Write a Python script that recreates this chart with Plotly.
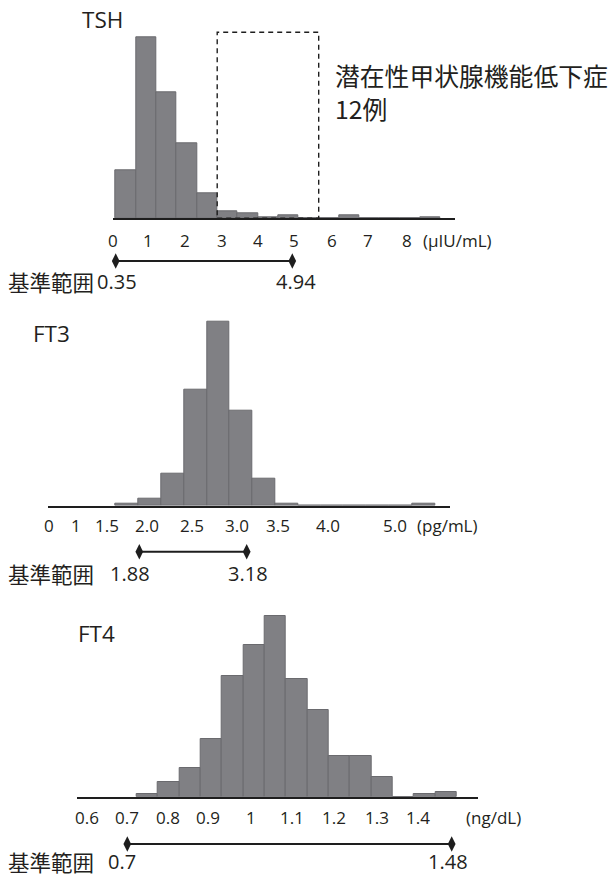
import plotly.graph_objects as go

W, H = 611, 877

# ------------------------------------------------------------------ data
tsh_counts = [36, 137, 95, 57, 19, 5, 4, 1, 2, 0, 0, 2, 0, 0, 0, 1]
tsh_tick_labels = ["0", "1", "2", "3", "4", "5", "6", "7", "8"]
tsh_unit = "(µIU/mL)"
tsh_ref = [0.35, 4.94]
tsh_ref_labels = ["0.35", "4.94"]
tsh_box_bins = [5, 9]          # bins inside the dashed box
tsh_box_text = ["潜在性甲状腺機能低下症", "12例"]

ft3_counts = [1, 4, 19, 68, 108, 56, 16, 1, 0, 0, 0, 0, 0, 1]
ft3_tick_labels = ["0", "1", "1.5", "2.0", "2.5", "3.0", "3.5", "4.0", "5.0"]
ft3_unit = "(pg/mL)"
ft3_ref = [1.88, 3.18]
ft3_ref_labels = ["1.88", "3.18"]

ft4_counts = [1, 6, 12, 24, 50, 63, 75, 49, 36, 17, 17, 8, 0, 1, 2]
ft4_tick_labels = ["0.6", "0.7", "0.8", "0.9", "1", "1.1", "1.2", "1.3", "1.4"]
ft4_unit = "(ng/dL)"
ft4_ref = [0.7, 1.48]
ft4_ref_labels = ["0.7", "1.48"]

ref_title = "基準範囲"
titles = ["TSH", "FT3", "FT4"]

# ------------------------------------------------------------------ layout (pixels)
panels = [
    dict(title=titles[0], title_xy=(102.5, 19), counts=tsh_counts,
         line=(113.3, 455), x0=115.7, bw=20.3, base=218.3, top=37.3,
         ticks_px=[112.7, 148, 185, 221.7, 258.3, 294, 331.7, 368.3, 406.7],
         tick_labels=tsh_tick_labels, tick_y=240, unit=tsh_unit, unit_x=457,
         ref=tsh_ref, ref_px=(115.7, 292.3), ref_y=261,
         ref_labels=tsh_ref_labels, ref_label_px=(117, 296), ref_text_y=281.7,
         ref_title_x=6),
    dict(title=titles[1], title_xy=(51.7, 333), counts=ft3_counts,
         line=(48.3, 450), x0=115.7, bw=22.8, base=505.7, top=321.7,
         ticks_px=[49, 76, 106.7, 146.7, 191.7, 236.7, 278.3, 328.3, 395],
         tick_labels=ft3_tick_labels, tick_y=525, unit=ft3_unit, unit_x=447,
         ref=ft3_ref, ref_px=(139.3, 246.7), ref_y=551.7,
         ref_labels=ft3_ref_labels, ref_label_px=(130, 248), ref_text_y=573,
         ref_title_x=6),
    dict(title=titles[2], title_xy=(96.7, 633), counts=ft4_counts,
         line=(76.7, 478.3), x0=136.7, bw=21.33, base=796.7, top=616,
         ticks_px=[86.7, 126.7, 168.3, 208.3, 250.7, 292.3, 334.3, 376.7, 418.3],
         tick_labels=ft4_tick_labels, tick_y=817, unit=ft4_unit, unit_x=493,
         ref=ft4_ref, ref_px=(127.3, 451.7), ref_y=844,
         ref_labels=ft4_ref_labels, ref_label_px=(122, 448), ref_text_y=861,
         ref_title_x=6),
]

FONT = "Open Sans, Noto Sans CJK JP, sans-serif"
JFONT = "Noto Sans CJK JP, Open Sans, sans-serif"
TXT = "#231f20"
BAR = "#808084"
BAR_EDGE = "#6a6a6e"


def px(x):
    return x / W


def py(y):
    return 1 - y / H


fig = go.Figure()
layout = dict(width=W, height=H, margin=dict(l=0, r=0, t=0, b=0),
              paper_bgcolor="white", plot_bgcolor="white", showlegend=False)
annotations = []
shapes = []

for k, p in enumerate(panels):
    i_main = k + 1
    i_ref = k + 4
    xa, ya = f"x{i_main}", f"y{i_main}"
    xr, yr = f"x{i_ref}", f"y{i_ref}"
    n = len(p["counts"])

    # histogram bars (bin index axis)
    fig.add_trace(go.Bar(x=list(range(n)), y=p["counts"], width=1,
                         marker=dict(color=BAR, line=dict(color=BAR_EDGE, width=1)),
                         xaxis=xa, yaxis=ya, hoverinfo="skip"))

    l0, l1 = p["line"]
    u0 = (l0 - p["x0"]) / p["bw"] - 0.5
    u1 = (l1 - p["x0"]) / p["bw"] - 0.5
    dom_top = p["top"] - 4
    ymax = max(p["counts"]) * (p["base"] - dom_top) / (p["base"] - p["top"])
    layout[f"xaxis{i_main}"] = dict(domain=[px(l0), px(l1)], range=[u0, u1],
                                    anchor=ya, showline=True, linecolor="#1e1e1e",
                                    linewidth=2, showgrid=False, zeroline=False,
                                    ticks="", showticklabels=False, fixedrange=True)
    layout[f"yaxis{i_main}"] = dict(domain=[py(p["base"]), py(dom_top)],
                                    range=[0, ymax], anchor=xa, visible=False,
                                    fixedrange=True)

    # reference-range bar on its own linear value axis
    v1, v2 = p["ref"]
    p1, p2 = p["ref_px"]
    s = (p2 - p1) / (v2 - v1)
    layout[f"xaxis{i_ref}"] = dict(domain=[0, 1], range=[v1 - p1 / s, v1 + (W - p1) / s],
                                   anchor=yr, visible=False, fixedrange=True)
    layout[f"yaxis{i_ref}"] = dict(domain=[py(p["ref_y"] + 9), py(p["ref_y"] - 9)],
                                   range=[-1, 1], anchor=xr, visible=False,
                                   fixedrange=True)
    fig.add_trace(go.Scatter(x=p["ref"], y=[0, 0], mode="lines+markers",
                             line=dict(color="#1e1e1e", width=2),
                             marker=dict(symbol="diamond-tall", size=11, color="#1e1e1e"),
                             cliponaxis=False, xaxis=xr, yaxis=yr, hoverinfo="skip"))

    # title
    annotations.append(dict(x=px(p["title_xy"][0]), y=py(p["title_xy"][1]),
                            xref="paper", yref="paper", text=p["title"],
                            showarrow=False, xanchor="center", yanchor="middle",
                            font=dict(family=FONT, size=22.5, color=TXT)))
    # tick labels
    for tx, tl in zip(p["ticks_px"], p["tick_labels"]):
        annotations.append(dict(x=px(tx), y=py(p["tick_y"]), xref="paper", yref="paper",
                                text=tl, showarrow=False, xanchor="center",
                                yanchor="middle",
                                font=dict(family=FONT, size=17, color=TXT)))
    annotations.append(dict(x=px(p["unit_x"]), y=py(p["tick_y"]), xref="paper",
                            yref="paper", text=p["unit"], showarrow=False,
                            xanchor="center", yanchor="middle",
                            font=dict(family=FONT, size=17, color=TXT)))
    # reference range texts
    annotations.append(dict(x=px(p["ref_title_x"]), y=py(p["ref_text_y"]), xref="paper",
                            yref="paper", text=ref_title, showarrow=False,
                            xanchor="left", yanchor="middle",
                            font=dict(family=JFONT, size=21.5, color=TXT)))
    for lx, lt in zip(p["ref_label_px"], p["ref_labels"]):
        annotations.append(dict(x=px(lx), y=py(p["ref_text_y"]), xref="paper",
                                yref="paper", text=lt, showarrow=False,
                                xanchor="center", yanchor="middle",
                                font=dict(family=FONT, size=20, color=TXT)))

# dashed box around subclinical range in TSH panel
shapes.append(dict(type="rect", xref="x1", yref="paper",
                   x0=tsh_box_bins[0] - 0.5, x1=tsh_box_bins[1] + 0.5,
                   y0=py(panels[0]["base"]), y1=py(32.3),
                   line=dict(color="#1e1e1e", width=1.4, dash="5px,4px")))
for j, (t, yy) in enumerate(zip(tsh_box_text, [75, 108])):
    annotations.append(dict(x=px(333), y=py(yy), xref="paper", yref="paper", text=t,
                            showarrow=False, xanchor="left", yanchor="middle",
                            font=dict(family=JFONT, size=24.8, color=TXT)))

layout["annotations"] = annotations
layout["shapes"] = shapes
layout["bargap"] = 0
fig.update_layout(**layout)
fig.write_html("out.html", config={"displayModeBar": False},
               post_script="document.body.style.margin='0';"
                           "document.body.style.overflow='hidden';")
